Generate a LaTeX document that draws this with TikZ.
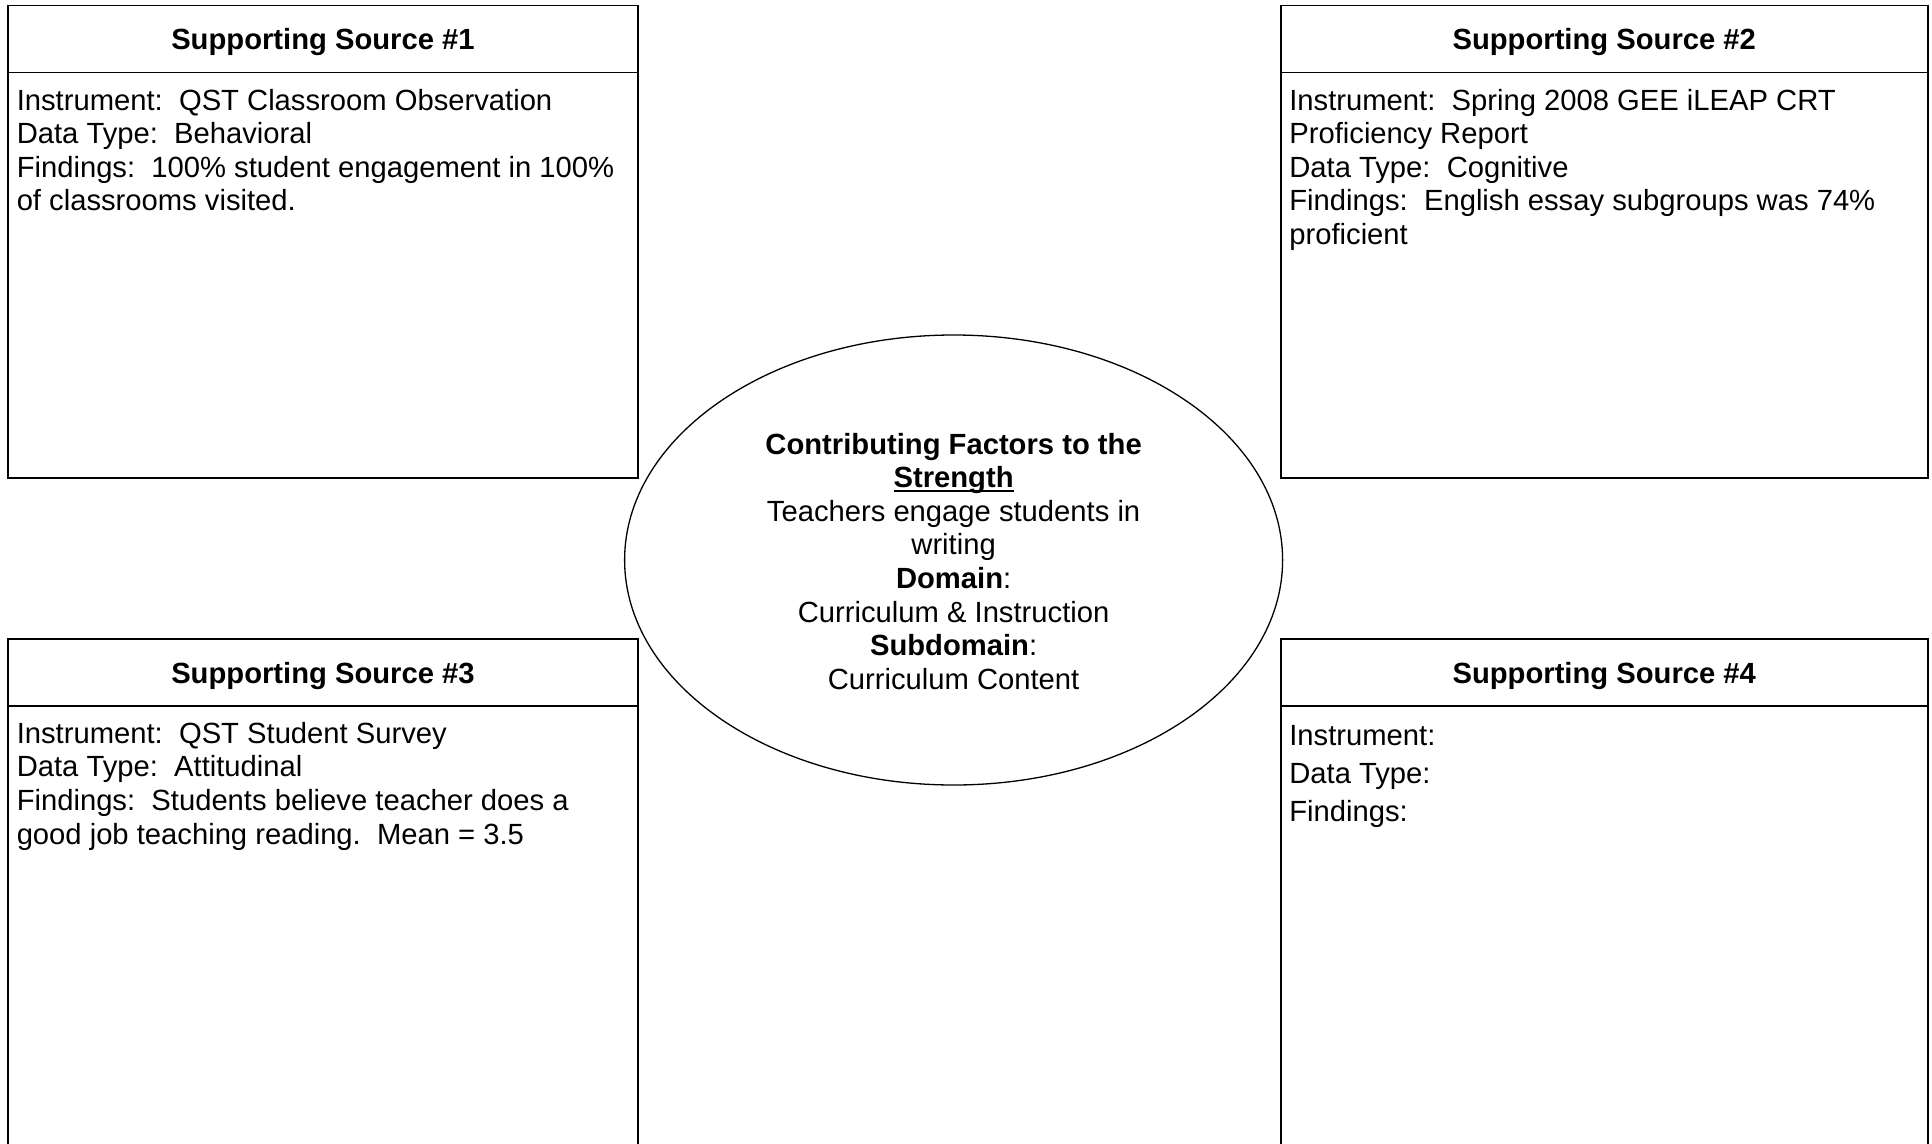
\documentclass[tikz,border=0pt]{standalone}
\usepackage{fontspec}
\setmainfont{Liberation Sans}
\usetikzlibrary{shapes.geometric}
\newcommand\dsp{\hspace{0.556em}}
\newcommand\topstrut{\rule{0pt}{23.5pt}}
\newcommand\myul[1]{\begingroup\setbox0\hbox{#1}\rlap{\rule[-4.2pt]{\wd0}{2.2pt}}\box0\endgroup}
\begin{document}
\begin{tikzpicture}[x=1pt,y=-1pt,line width=1.5pt,
  txt/.style={font=\fontsize{29.2pt}{33.6pt}\selectfont},
  frame/.style={draw,rectangle,anchor=north west,inner sep=0,minimum width=629.6pt},
  hdr/.style={anchor=base,inner sep=0,font=\fontsize{29.2pt}{33.6pt}\selectfont\bfseries},
  body/.style={txt,anchor=north west,align=left,inner sep=0},
  bubble/.style={draw,ellipse,line width=1.3pt,inner sep=0,minimum width=658pt,minimum height=450pt,align=center,txt}]
\useasboundingbox (0,0) rectangle (1932,1143);
\clip (0,0) rectangle (1932,1143);

% boxes
\node[frame,minimum height=472.1pt] (b1) at (7.4,4.9) {};
\node[frame,minimum height=472.1pt,minimum width=647pt] (b2) at (1280,4.9) {};
\node[frame,minimum height=530pt] (b3) at (7.4,638.2) {};
\node[frame,minimum height=530pt,minimum width=647pt] (b4) at (1280,638.2) {};

% header dividers
\foreach \b in {b1,b2,b3,b4}
  \draw ([yshift=-67.8pt]\b.north west) -- ([yshift=-67.8pt]\b.north east);

% headers
\node[hdr] (h1) at ([yshift=-44.1pt]b1.north) {Supporting Source \#1};
\node[hdr] (h2) at ([yshift=-44.1pt]b2.north) {Supporting Source \#2};
\node[hdr] (h3) at ([yshift=-44.8pt]b3.north) {Supporting Source \#3};
\node[hdr] (h4) at ([yshift=-44.8pt]b4.north) {Supporting Source \#4};

% bodies
\node[body] (t1) at (16,85.8) {\topstrut Instrument:\dsp QST Classroom Observation\\Data Type:\dsp Behavioral\\Findings:\dsp 100\% student engagement in 100\%\\of classrooms visited.};
\node[body] (t2) at (1288.6,85.8) {\topstrut Instrument:\dsp Spring 2008 GEE iLEAP CRT\\Proficiency Report\\Data Type:\dsp Cognitive\\Findings:\dsp English essay subgroups was 74\%\\proficient};
\node[body] (t3) at (16,719) {\topstrut Instrument:\dsp QST Student Survey\\Data Type:\dsp Attitudinal\\Findings:\dsp Students believe teacher does a\\good job teaching reading.\dsp Mean = 3.5};
\node[body,font=\fontsize{29.2pt}{38pt}\selectfont] (t4) at (1288.6,721.5) {\topstrut Instrument:\\Data Type:\\Findings:};

% central ellipse
\node[bubble] (c) at (953.6,560) {\topstrut\textbf{Contributing Factors to the}\\\textbf{\myul{Strength}}\\Teachers engage students in\\writing\\\textbf{Domain}:\\Curriculum \& Instruction\\\textbf{Subdomain}:\\Curriculum Content};
\end{tikzpicture}
\end{document}
